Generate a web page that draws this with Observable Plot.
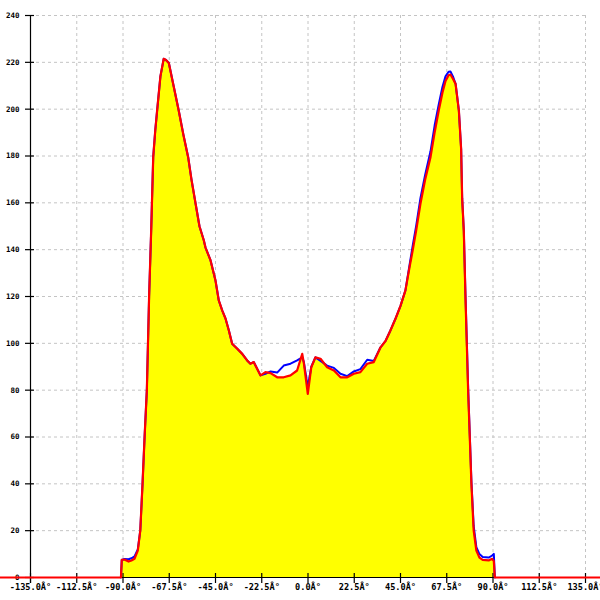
<!DOCTYPE html>
<html>
<head>
<meta charset="utf-8">
<script src="https://cdn.jsdelivr.net/npm/d3@7"></script>
<script src="https://cdn.jsdelivr.net/npm/@observablehq/plot@0.6"></script>
<style>
  html, body { margin: 0; padding: 0; background: #ffffff; }
</style>
</head>
<body>
<div id="chart"></div>
<script>
const angles = [-150, -91, -90.6, -89.3, -87.3, -85.9, -84.4, -82.8, -81.6, -80.5, -79.5, -78.4, -77.3, -76.3, -75.3, -74.3, -73.4, -71.8, -70.2, -69.1, -67.7, -65.4, -62.9, -60.6, -58.3, -56.7, -54.7, -52.8, -50.7, -49.9, -47.4, -45, -43.4, -41.7, -40.1, -38.5, -36.9, -34.4, -32, -29.6, -28, -26.4, -23.1, -20.7, -18.2, -15, -11.8, -8.5, -5.3, -2.8, -2, -0.1, 1.6, 3.6, 6.1, 9.3, 12.6, 15.8, 19.1, 22.3, 25.5, 28.8, 32, 35.3, 37.7, 40.1, 42.6, 45, 47.4, 49.5, 51, 52.6, 54.7, 57, 59.6, 61.6, 63.6, 65.4, 66.9, 68.4, 69.3, 70.5, 71.8, 73.4, 74.5, 75, 75.8, 76.6, 77.9, 78.7, 79.5, 80.6, 81.9, 83.4, 85, 87.9, 89.6, 90.4, 90.9, 150];

const red = [0, 0, 7.5, 7.7, 6.8, 7.3, 8, 11.5, 20, 40, 60, 80, 120, 148, 179.5, 191, 199.4, 214, 221.5, 221, 219.7, 210, 199.4, 189, 179.5, 170, 159.7, 150, 144, 141, 135.4, 126.8, 118.3, 114, 110.5, 105.5, 99.8, 97.7, 95.5, 92.7, 91.3, 92, 86.3, 87.7, 87.3, 85.5, 85.5, 86.3, 88.4, 95.5, 91.4, 78.4, 89.8, 94, 93.4, 89.8, 88.4, 85.5, 85.5, 87, 87.7, 91.3, 92, 98.3, 101, 105.5, 110.6, 116, 122.6, 133, 140, 148, 159.6, 170, 179.5, 190, 199.4, 207, 212, 214.5, 214.8, 213, 210.8, 199.4, 183, 162, 148, 120, 80, 60, 40, 20, 11.5, 8.5, 7.5, 7.3, 8, 7, 0, 0];

const blue = [null, 0, 7.5, 7.9, 7.8, 8.2, 9, 12, 20, 40, 60, 80, 120, 148, 179.5, 191, 199.4, 214, 221.5, 221, 219.7, 210, 199.4, 189, 179.5, 170, 159.7, 150, 144, 141, 135.4, 126.8, 118.3, 114, 110.5, 105.5, 99.8, 97.7, 95.5, 92.7, 91.3, 92, 86.3, 87, 88, 87.5, 90.5, 91.3, 92.7, 94, 92, 81.3, 90, 94, 92.5, 90.5, 89.5, 87, 86, 88, 89, 93, 92.5, 98.3, 101, 105.5, 110.6, 116, 122.6, 134, 142, 150, 162, 172, 182, 193, 202, 209.5, 214, 216, 216.1, 214, 210.8, 199.4, 183, 162, 148, 121, 81, 61, 41, 22, 13, 10, 8.8, 8.5, 9.4, 10.1, 0, null];

const xTicks = [-135, -112.5, -90, -67.5, -45, -22.5, 0, 22.5, 45, 67.5, 90, 112.5, 135];
const xTickLabels = ["-135.0Â°", "-112.5Â°", "-90.0Â°", "-67.5Â°", "-45.0Â°", "-22.5Â°", "0.0Â°", "22.5Â°", "45.0Â°", "67.5Â°", "90.0Â°", "112.5Â°", "135.0Â°"];
const yTicks = [0, 20, 40, 60, 80, 100, 120, 140, 160, 180, 200, 220, 240];
const yTickLabels = ["0", "20", "40", "60", "80", "100", "120", "140", "160", "180", "200", "220", "240"];

const data = angles.map((a, i) => ({a, red: red[i], blue: blue[i]}));

const font = "'DejaVu Sans Mono', monospace";

const chart = Plot.plot({
  width: 600,
  height: 600,
  marginLeft: 30,
  marginRight: 15,
  marginTop: 15,
  marginBottom: 23,
  x: {domain: [-135, 135]},
  y: {domain: [0, 240]},
  style: {background: "#ffffff", fontFamily: font, color: "#000000"},
  marks: [
    Plot.gridX(xTicks, {stroke: "#c4c4c4", strokeOpacity: 1, strokeDasharray: "3,3"}),
    Plot.gridY(yTicks, {stroke: "#c4c4c4", strokeOpacity: 1, strokeDasharray: "3,3"}),
    Plot.areaY(data, {x: "a", y: "red", fill: "#ffff00"}),
    Plot.ruleX([-135], {stroke: "#000000", strokeWidth: 1.2, insetBottom: -6}),
    Plot.ruleY([0], {stroke: "#000000", strokeWidth: 1.2}),
    Plot.axisY(yTicks, {
      tickSize: 9, dx: 4, tickPadding: 6, fontSize: 7.5, fontWeight: "bold",
      stroke: "#000000", strokeWidth: 1.2,
      tickFormat: (d, i) => yTickLabels[i], label: null
    }),
    Plot.axisX(xTicks, {
      tickSize: 10, dy: -4, tickPadding: 0, fontSize: 8.6, fontWeight: "bold",
      stroke: "#000000", strokeWidth: 1.2,
      tickFormat: (d, i) => xTickLabels[i], label: null
    }),
    Plot.line(data, {x: "a", y: "blue", stroke: "#0000ff", strokeWidth: 2}),
    Plot.line(data, {x: "a", y: "red", stroke: "#ff0000", strokeWidth: 2.2})
  ]
});

document.getElementById("chart").appendChild(chart);
</script>
</body>
</html>
